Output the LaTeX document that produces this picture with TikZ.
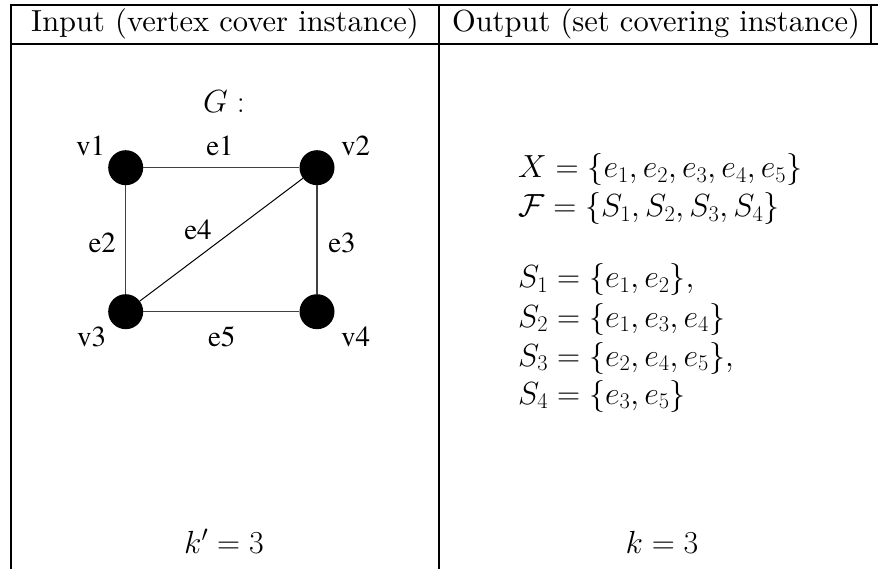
\RequirePackage{fix-cm}
\documentclass[tikz,border=0pt]{standalone}
\usepackage{amsmath}
\usepackage{amssymb}
\usepackage{fontspec}
\newfontfamily\graphfont{texgyretermes-regular.otf}
\newfontfamily\headfont{lmroman10-regular.otf}
\usetikzlibrary{positioning}

\tikzset{
    rule/.style={line width=2.2pt},
    vertex/.style={circle, fill=black, minimum size=35pt, inner sep=0pt},
    edge/.style={line width=1.3pt, black!75},
    glabel/.style={font=\graphfont\fontsize{29}{31}\selectfont, inner sep=0pt, anchor=base},
    heading/.style={font=\headfont\fontsize{30.5}{36}\selectfont, inner sep=0pt, anchor=base},
    mathtext/.style={font=\fontsize{32}{39}\selectfont, inner sep=0pt}
}

\begin{document}
\begin{tikzpicture}[x=1pt, y=-1pt]
    \useasboundingbox (0,0) rectangle (878,569);

    % Table rules
    \draw[rule] (10,5.3) -- (878,5.3);
    \draw[rule] (10,44) -- (878,44);
    \draw[rule] (11.3,4.2) -- (11.3,569);
    \draw[rule] (439,4.2) -- (439,569);
    \draw[rule] (871,4.2) -- (871,44);

    % Headings
    \node[heading] (inhead) at (225,32) {Input (vertex cover instance)};
    \node[heading] (outhead) at (656,32) {Output (set covering instance)};

    % Graph G
    \node[mathtext, anchor=base] (gname) at (224,113) {$G:$};
    \node[vertex] (v1) at (125.7,167.7) {};
    \node[vertex] (v2) at (317,167.7) {};
    \node[vertex] (v3) at (125.7,311.7) {};
    \node[vertex] (v4) at (317,311.7) {};

    \draw[edge] (v1) -- (v2);
    \draw[edge] (v1) -- (v3);
    \draw[edge] (v2) -- (v4);
    \draw[edge] (v3) -- (v4);
    \draw[line width=1pt] (v3) -- (v2);

    % Vertex and edge labels
    \node[glabel] (lv1) at (90.5,156) {v1};
    \node[glabel] (le1) at (220,156) {e1};
    \node[glabel] (lv2) at (355.7,156) {v2};
    \node[glabel] (le2) at (102.3,252.7) {e2};
    \node[glabel] (le4) at (198,240) {e4};
    \node[glabel] (le3) at (342,252.7) {e3};
    \node[glabel] (lv3) at (91.7,346.7) {v3};
    \node[glabel] (le5) at (221.7,346.7) {e5};
    \node[glabel] (lv4) at (355.7,346.7) {v4};

    % Set covering instance
    \node[mathtext, anchor=base west] (setx) at (518,178) {$X = \{e_1, e_2, e_3, e_4, e_5\}$};
    \node[mathtext, anchor=base west] (setf) at (518,217) {$\mathcal{F} = \{S_1, S_2, S_3, S_4\}$};
    \node[mathtext, anchor=base west] (sone) at (518,288) {$S_1 = \{e_1, e_2\},$};
    \node[mathtext, anchor=base west] (stwo) at (518,327) {$S_2 = \{e_1, e_3, e_4\}$};
    \node[mathtext, anchor=base west] (sthree) at (518,366) {$S_3 = \{e_2, e_4, e_5\},$};
    \node[mathtext, anchor=base west] (sfour) at (518,404) {$S_4 = \{e_3, e_5\}$};

    % Bounds
    \node[mathtext, anchor=base] (kin) at (224,553) {$k' = 3$};
    \node[mathtext, anchor=base] (kout) at (662,553) {$k = 3$};
\end{tikzpicture}
\end{document}
